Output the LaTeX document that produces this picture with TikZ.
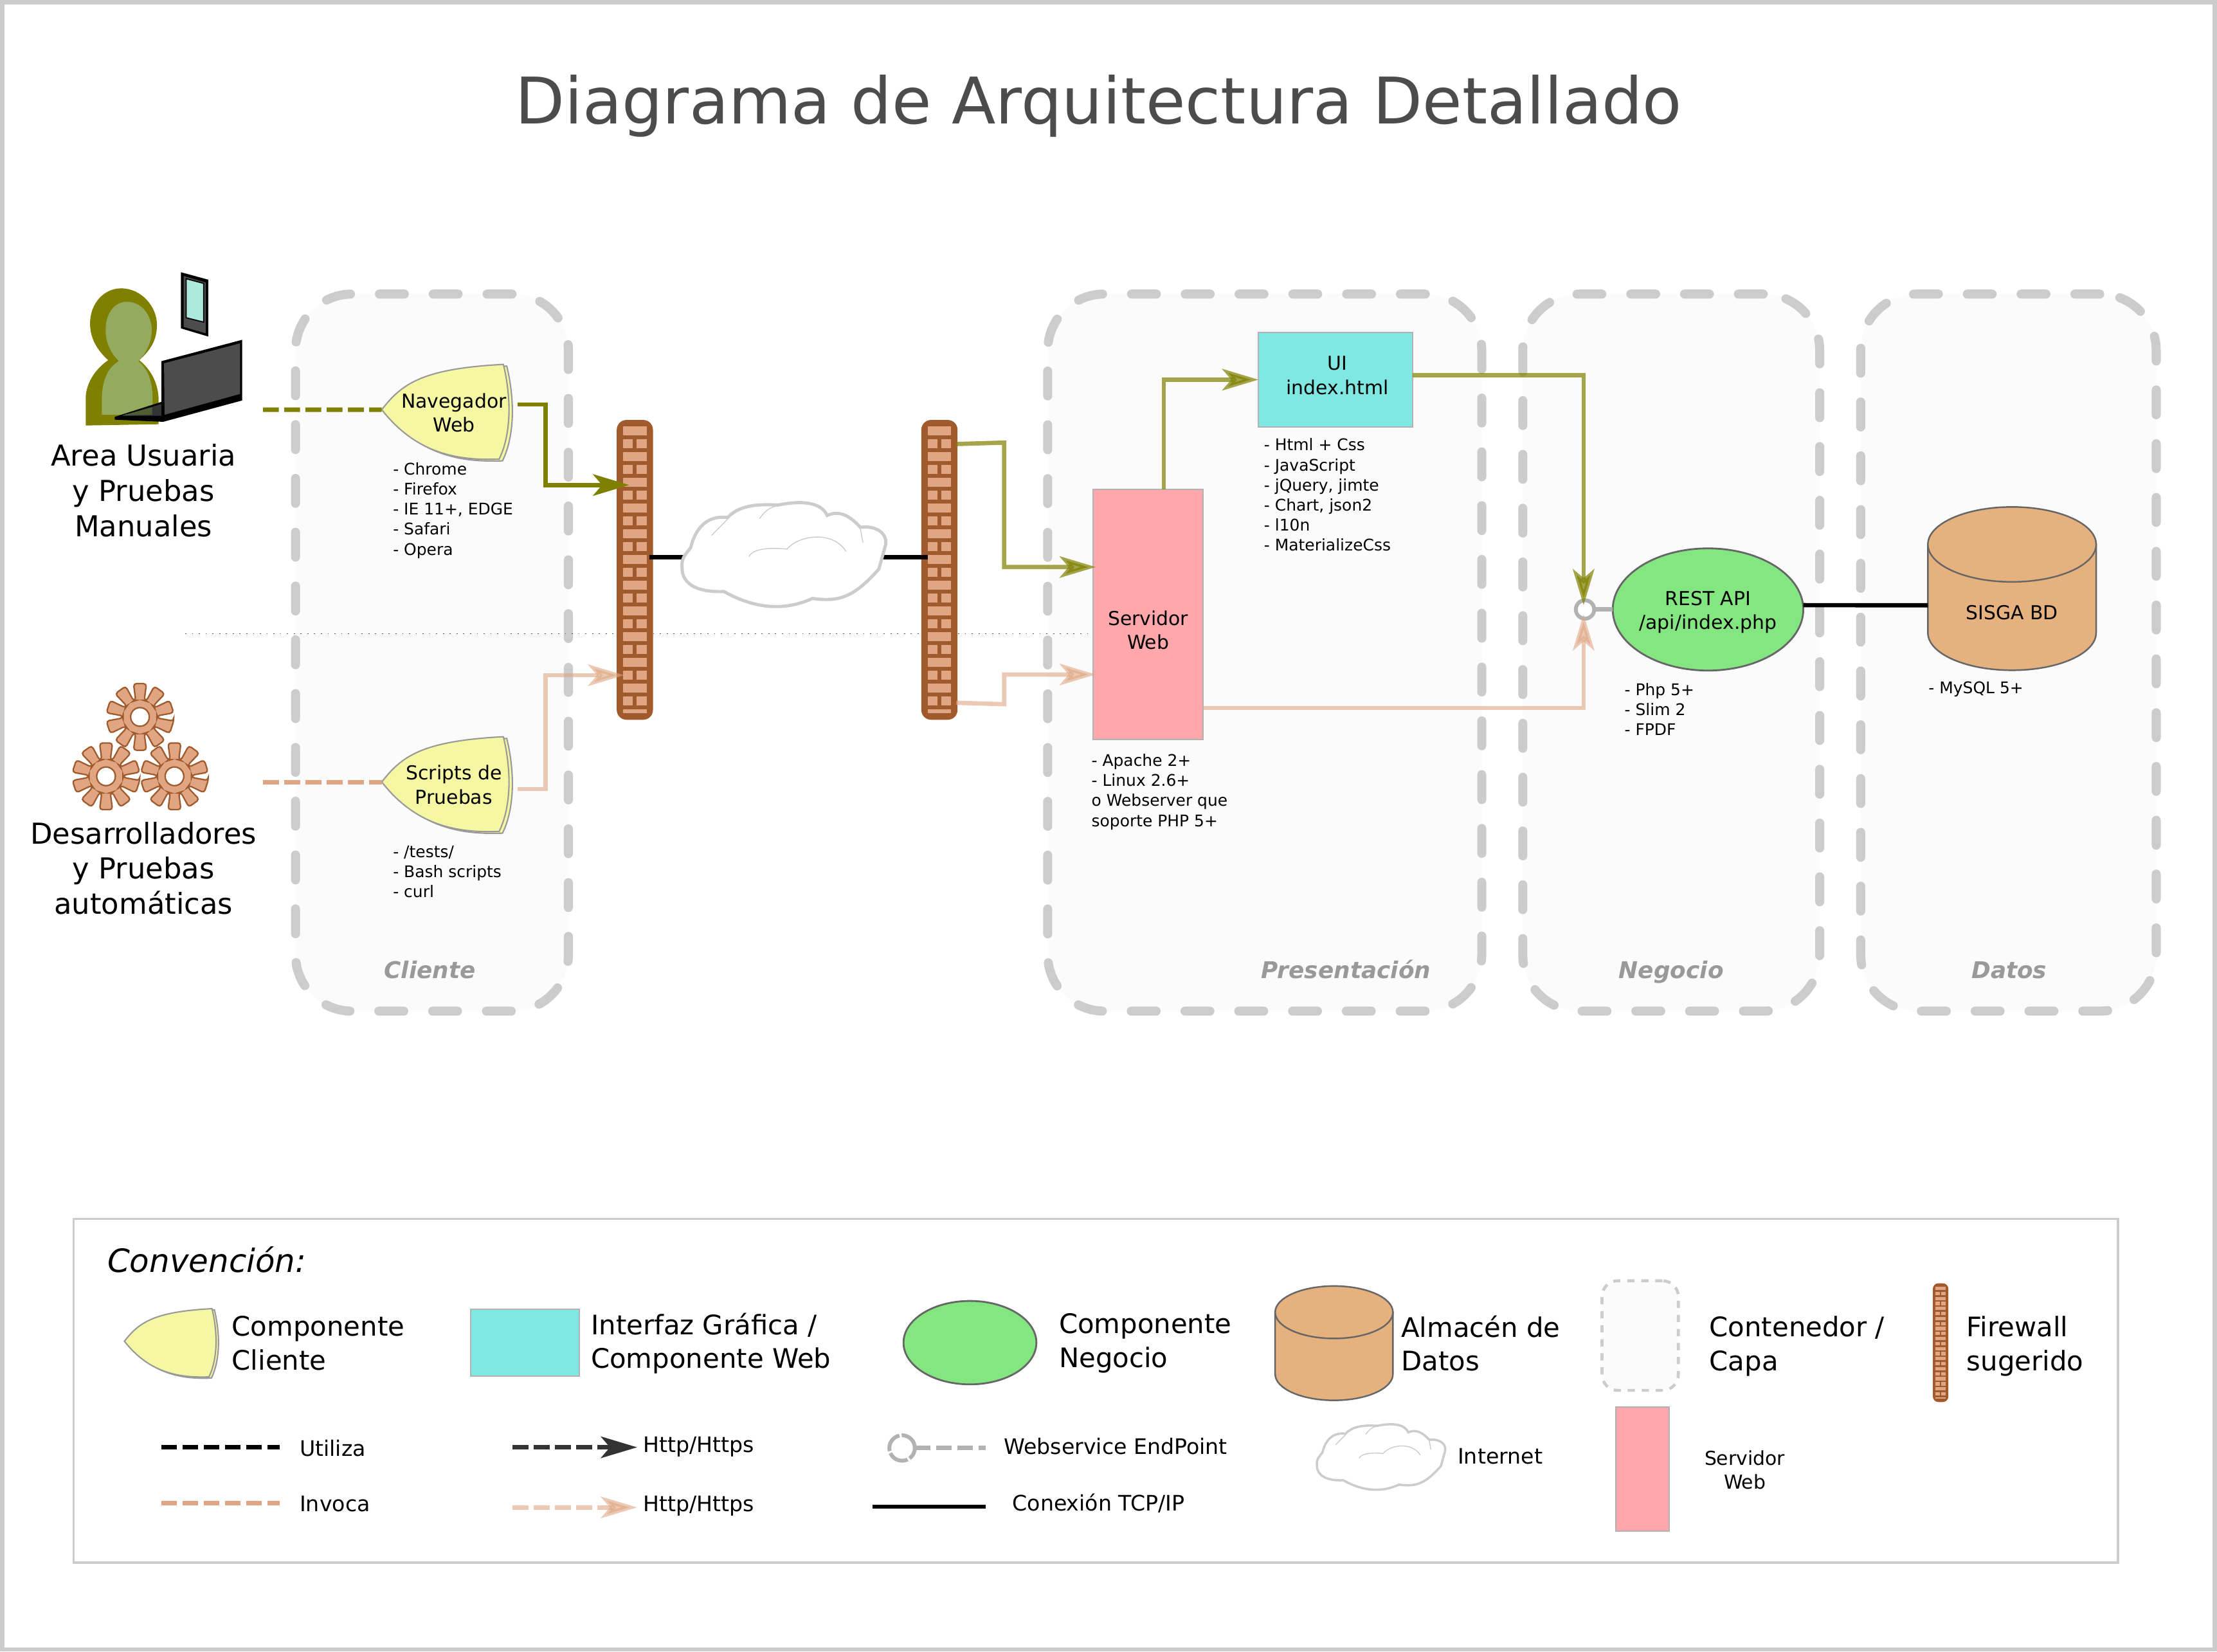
\documentclass[tikz,border=0pt]{standalone}
\usepackage{fontspec}
\setmainfont{DejaVu Sans}
\usetikzlibrary{arrows.meta,shapes.geometric}
\definecolor{oliva}{HTML}{808000}
\definecolor{durazno}{HTML}{E0A683}
\definecolor{ladrillo}{HTML}{A05A2C}
\definecolor{amarillo}{HTML}{F5F7A3}
\definecolor{cian}{HTML}{80E8E3}
\definecolor{rosado}{HTML}{FFA7AA}
\definecolor{verde}{HTML}{84E681}
\definecolor{arena}{HTML}{E4B17F}
\definecolor{oliva claro}{HTML}{94AA5F}
\definecolor{pantalla}{HTML}{AEE9DD}
\tikzset{
every node/.style={outer sep=0pt},
capa/.style={draw=black!20, fill=black!1.5, line width=4pt, line cap=round, dash pattern=on 11pt off 12.8pt, rounded corners=25pt, minimum width=#1*0.02199cm, minimum height=11.15cm},
titulocapa/.style={font=\fontsize{10.2}{12}\selectfont\bfseries\itshape, text=black!40, text height=1.5ex, text depth=.4ex},
texto/.style={font=\fontsize{8.5}{10.6}\selectfont, align=center},
lista/.style={font=\fontsize{7.1}{8.88}\selectfont, align=left, anchor=west, inner sep=0pt},
grande/.style={font=\fontsize{12.75}{15.6}\selectfont, align=center},
leyenda/.style={font=\fontsize{11.9}{15}\selectfont, align=left, anchor=west, inner sep=0pt},
rotulo/.style={font=\fontsize{9.45}{11}\selectfont, anchor=west, inner sep=0pt},
muro/.style={fill=ladrillo, rounded corners=#1, minimum width=25.6*0.02199cm, minimum height=212*0.02199cm},
muro/.default=4.3pt,
web/.style={draw=black!30, fill=rosado, line width=.6pt},
interfaz/.style={draw=black!30, fill=cian, line width=.6pt},
negocio/.style={ellipse, draw=black!60, fill=verde, line width=.8pt},
endpoint/.style={circle, draw=black!30, fill=white, line width=1.7pt, inner sep=0pt},
utiliza/.style={line width=2pt, dash pattern=on 7pt off 2.4pt},
invoca/.style={color=durazno, line width=2pt, dash pattern=on 7pt off 2.4pt},
punta/.style={-{Stealth[length=16pt,width=9.5pt,inset=4pt]}},
http/.style={punta, color=oliva, line width=1.9pt},
httpclaro/.style={punta, color=oliva, opacity=.7, line width=1.9pt},
httpdur/.style={punta, color=durazno, opacity=.6, line width=1.9pt},
tcp/.style={line width=1.9pt},
pics/ladrillos/.style={code={
\foreach \i in {0,2,...,20} \fill[durazno] (-8.4,-101.4+9.1*\i) rectangle ++(16.7,6.1);
\foreach \i in {1,3,...,21} {
\fill[durazno] (-8.4,-101.4+9.1*\i) rectangle ++(7,6.1);
\fill[durazno] (1.3,-101.4+9.1*\i) rectangle ++(7,6.1);
}
\fill[durazno] (-8.4,98.8) rectangle ++(16.7,2.4);
}},
pics/escudo/.style={code={
\foreach \d in {2.4,0}
\filldraw[shift={(\d,\d/2)}, fill=amarillo, draw=black!40, line width=.6pt] (0,0) .. controls (14,-18) and (28,-29) .. (86,-32) .. controls (89,-20) and (90,-8) .. (90,0) .. controls (90,12) and (88,25) .. (83,35) .. controls (55,36) and (25,32) .. (0,0) -- cycle;
}},
pics/cilindro/.style={code={
\filldraw[fill=arena, draw=black!60, line width=.7pt] (-59.5,0) -- (-59.5,62.5) arc (180:0:59.5 and 26.5) -- (59.5,0) -- cycle;
\filldraw[fill=arena, draw=black!60, line width=.7pt] (0,0) ellipse (59.5 and 26.5);
}},
pics/engrane/.style={code={
\filldraw[fill=durazno, draw=ladrillo, line width=.65pt, rounded corners=1.3pt] (7:24) \foreach \a in {0,36,...,324} { -- (\a+7:24) -- (\a+29:24) -- (\a+32.5:12) -- (\a+39.5:12) } -- cycle;
\filldraw[fill=white, draw=ladrillo, line width=.65pt] (0,0) circle (6.6);
}},
pics/nube/.style={code={
\filldraw[fill=white, draw=black!20, line width=#1] (-65.5,-6.7) .. controls (-61.2,-24.2) and (-50.7,-29.5) .. (-39.4,-28) .. controls (-31.6,-36.3) and (-19.4,-37.8) .. (-3.8,-36.8) .. controls (11.9,-40.1) and (26.7,-39.3) .. (31,-29.5) .. controls (39.7,-33.3) and (46.7,-29.5) .. (54.5,-21.1) .. controls (67.6,-22.7) and (74.5,-15.1) .. (72,-7.5) -- (67.6,8.4) .. controls (50.2,28.1) and (39.7,31.9) .. (20.6,29.2) .. controls (3.2,37.2) and (-17.7,38) .. (-42,24.3) .. controls (-59.4,25.1) and (-71.6,19.8) .. (-71.6,7.7) .. controls (-72.5,0.1) and (-68.1,-3) .. (-65.5,-6.7) -- cycle;
\draw[black!20, line width=.4pt] (-50.7,-15.4) -- (-39.4,-26.9);
\draw[black!20, line width=.4pt] (-16.8,-27.2) .. controls (-12.5,-33.3) and (-9,-35.5) .. (-4.1,-36.3);
\draw[black!20, line width=.4pt] (56.3,-10.2) .. controls (55.7,-15.1) .. (54.5,-20.4);
\draw[black!20, line width=.4pt] (-24.3,-0.4) .. controls (-21.2,-6.7) and (-7.2,-6.7) .. (2.7,-5.7) .. controls (10.2,-15.1) and (34.5,-19.6) .. (44.4,-4);
}}
}

\begin{document}
\begin{tikzpicture}[x=0.02199cm, y=-0.02199cm]
\useasboundingbox (0,0) rectangle (1568,1168);
\fill[white] (0,0) rectangle (1568,1168);
\draw[black!20, line width=1.9pt] (1.5,1.5) rectangle (1566.5,1166.5);
\node[font=\fontsize{28.45}{32}\selectfont, text=black!70] (titulo) at (777,75) {Diagrama de Arquitectura Detallado};

\node[capa=193] (cliente) at (305.5,461.5) {};
\node[capa=307] (presentacion) at (894.5,461.5) {};
\node[capa=210] (capanegocio) at (1182,461.5) {};
\node[capa=209] (datos) at (1420.5,461.5) {};
\node[titulocapa] (tcliente) at (304,687) {Cliente};
\node[titulocapa] (tpresentacion) at (952,687) {Presentación};
\node[titulocapa] (tnegocio) at (1182,687) {Negocio};
\node[titulocapa] (tdatos) at (1421,687) {Datos};
\coordinate (lineaA) at (131,448);
\coordinate (lineaB) at (775,448);
\draw[black!70, line width=.3pt, dash pattern=on .5pt off 2.5pt] (lineaA) -- (lineaB);

\fill[oliva] (60.6,300.9) -- (60.6,282) .. controls (60.6,275) and (63.7,263.8) .. (76.5,254.7) .. controls (69,247.9) and (63.7,239.5) .. (63.7,228.9) .. controls (63.7,213.7) and (74.3,203.9) .. (85.6,203.9) .. controls (100,203.9) and (111,216.8) .. (111,229.7) .. controls (111,241) and (106.1,247.9) .. (98.5,254.7) .. controls (106.9,261.5) and (112.2,271.3) .. (112.2,283.5) -- (112.2,300) -- cycle;
\fill[oliva claro] (72,293.3) -- (72,280.4) .. controls (72.8,266.8) and (77.3,259.2) .. (84.1,255.4) .. controls (77.3,248.6) and (74.7,241) .. (74.7,233.4) .. controls (74.7,221.3) and (81.1,213.4) .. (89.9,213.4) .. controls (100,213.4) and (107.3,222.8) .. (107.3,233.4) .. controls (107.3,242.5) and (103.1,250.1) .. (97.8,255.4) .. controls (104.6,260.7) and (107.9,269.8) .. (107.9,282) -- (107.9,293.3) -- cycle;
\fill[black] (171.3,280.4) -- (171.3,283.2) -- (115.4,298.3) -- (81.1,296.8) -- (81.1,294.8) -- (114.2,284.2) -- cycle;
\fill[black!80] (86.4,294.1) -- (114.2,285.7) -- (114.2,294.1) -- cycle;
\fill[black!45!oliva claro] (86.4,293.8) -- (107.6,288) -- (107.6,293.3) -- cycle;
\fill[black] (114.2,255.4) -- (171.3,240.3) -- (171.3,280.4) -- (114.2,295.6) -- cycle;
\fill[black!70] (116,256.9) -- (169.8,242.8) -- (169.8,278.6) -- (116.4,293.3) -- cycle;
\fill[black] (127.9,192.5) -- (147.3,197.8) -- (147.3,238) -- (127.9,232.2) -- cycle;
\fill[black!70] (129.9,195.2) -- (145.5,199.8) -- (145.5,235.7) -- (129.9,231.2) -- cycle;
\filldraw[fill=pantalla, draw=black, line width=.5pt] (131.6,197.1) -- (144,200.4) -- (144,227.8) -- (131.6,224.7) -- cycle;
\foreach \position in {(99,507),(75,549),(123.4,549)}
\path \position pic {engrane};
\node[grande] (usuaria) at (101.5,347) {Area Usuaria\\y Pruebas\\Manuales};
\node[grande] (desarrolladores) at (101.5,614) {Desarrolladores\\y Pruebas\\automáticas};

\path (270,289.7) pic {escudo};
\path (270,553) pic {escudo};
\node[texto, minimum width=90*0.02199cm] (navegador) at (321,292) {Navegador\\Web};
\node[texto, minimum width=90*0.02199cm] (scripts) at (321,555) {Scripts de\\Pruebas};
\coordinate (usoA) at (186,289.7);
\coordinate (usoB) at (186,553);
\draw[utiliza, color=oliva] (usoA) -- ([shift={(-6,-2.3)}]navegador.west);
\draw[invoca] (usoB) -- ([shift={(-6,-2)}]scripts.west);
\node[lista] (lnavegador) at (278,361) {- Chrome\\- Firefox\\- IE 11+, EDGE\\- Safari\\- Opera};
\node[lista] (lscripts) at (278,616.5) {- /tests/\\- Bash scripts\\- curl};

\node[muro] (muro1) at (449,403) {};
\node[muro] (muro2) at (664.4,403) {};
\path (muro1.center) pic {ladrillos};
\path (muro2.center) pic {ladrillos};
\node (internet) at (554,394) {};
\draw[tcp] ([shift={(-2.5,-9)}]muro1.east) -- (internet);
\draw[tcp] ([shift={(4.5,-9)}]muro2.west) -- (internet);
\path (internet.center) pic {nube=1.4pt};

\node[web, minimum width=78*0.02199cm, minimum height=177*0.02199cm] (servidor) at (812,434.5) {};
\node[texto] (tservidor) at (812,445.5) {Servidor\\Web};
\node[interfaz, minimum width=109*0.02199cm, minimum height=67*0.02199cm] (ui) at (944.5,268.5) {};
\node[texto] (tui) at (946,265.5) {UI\\index.html};
\node[negocio, minimum width=134.8*0.02199cm, minimum height=86.4*0.02199cm] (api) at (1208,431) {};
\node[texto] (tapi) at (1208,433) {REST API\\/api/index.php};
\node[endpoint, minimum size=13*0.02199cm] (wsapi) at (1121,431) {};
\path (1423,385) pic {cilindro};
\node[texto, minimum width=119*0.02199cm] (bd) at (1423,433) {SISGA BD};
\node[lista] (lservidor) at (772,560) {- Apache 2+\\- Linux 2.6+\\o Webserver que\\soporte PHP 5+};
\node[lista] (lui) at (894,350) {- Html + Css\\- JavaScript\\- jQuery, jimte\\- Chart, json2\\- l10n\\- MaterializeCss};
\node[lista] (lapi) at (1149,501.5) {- Php 5+\\- Slim 2\\- FPDF};
\node[lista] (lbd) at (1364,487.5) {- MySQL 5+};

\draw[http] ([yshift=3.7pt]navegador.east) -- ++(20,0) |- ([shift={(-4,-60)}]muro1.center);
\draw[httpdur] ([yshift=-1.9pt]scripts.east) -- ++(20,0) |- ([shift={(-7.5,74.5)}]muro1.center);
\draw[httpclaro] ([shift={(-1,-89)}]muro2.east) -- ++(34,-1) |- ([shift={(2,-33.5)}]servidor.west);
\draw[httpdur] ([shift={(-1,94)}]muro2.east) -- ++(34,1) |- ([shift={(2,42.5)}]servidor.west);
\draw[httpclaro] ([xshift=6.9pt]servidor.north) |- (ui.west);
\draw[httpclaro] ([yshift=2pt]ui.east) -| ([shift={(-1,-3)}]wsapi.center);
\draw[httpdur] ([yshift=14pt]servidor.south east) -| ([shift={(-1,3.4)}]wsapi.center);
\draw[black!30, line width=1.9pt] (wsapi) -- (api);
\draw[tcp] ([yshift=1.9pt]api.east) -- ([yshift=3.1pt]bd.west);

\node[draw=black!20, line width=1pt, minimum width=1446*0.02199cm, minimum height=243*0.02199cm] (convencion) at (775,983.5) {};
\node[font=\fontsize{14.2}{17}\selectfont\itshape, anchor=west, inner sep=0pt] (tconvencion) at (76,891) {Convención:};

\path (88,948.5) pic[scale=.72] {escudo};
\node[leyenda] (lcliente) at (164,950) {Componente\\Cliente};
\node[interfaz, minimum width=76.8*0.02199cm, minimum height=47*0.02199cm] (linterfaz) at (371.4,949.5) {};
\node[leyenda] (tinterfaz) at (418,950) {Interfaz Gráfica /\\Componente Web};
\node[negocio, minimum width=94*0.02199cm, minimum height=59*0.02199cm] (lnegocio) at (686,949.5) {};
\node[leyenda] (tlnegocio) at (749,950) {Componente\\Negocio};
\path (943.5,928) pic[scale=.7] {cilindro};
\node[leyenda] (lalmacen) at (991,950) {Almacén de\\Datos};
\node[draw=black!20, fill=black!1.5, line width=1.3pt, dash pattern=on 3.2pt off 3pt, rounded corners=7pt, minimum width=54*0.02199cm, minimum height=77.5*0.02199cm] (lcapa) at (1160,944.5) {};
\node[leyenda] (lcontenedor) at (1209,952) {Contenedor /\\Capa};
\node[muro=2.5pt, minimum width=11*0.02199cm, minimum height=84*0.02199cm] (lmuro) at (1372.5,949.5) {};
\path (lmuro.center) pic[xscale=.43, yscale=.39] {ladrillos};
\node[leyenda] (lfirewall) at (1391,952) {Firewall\\sugerido};

\foreach \nombre/\y/\estilo/\etiqueta in {utiliza/1023.5/utiliza/Utiliza,invoca/1063/invoca/Invoca}{
\coordinate (\nombre A) at (114,\y);
\coordinate (\nombre B) at (198,\y);
\draw[\estilo] (\nombre A) -- (\nombre B);
\node[rotulo] (t\nombre) at (212,\y+0.5) {\etiqueta};
}
\coordinate (httpA) at (362.5,1023.5);
\coordinate (httpB) at (450.6,1023.5);
\draw[punta, color=black!80, line width=2pt, dash pattern=on 7pt off 2.4pt] (httpA) -- (httpB);
\node[rotulo] (thttp) at (455,1023) {Http/Https};
\coordinate (httpclaroA) at (362.5,1066);
\coordinate (httpclaroB) at (450.6,1066);
\draw[punta, color=durazno, opacity=.6, line width=2pt, dash pattern=on 7pt off 2.4pt] (httpclaroA) -- (httpclaroB);
\node[rotulo] (thttpclaro) at (455,1065) {Http/Https};
\node[endpoint, minimum size=18*0.02199cm, dash pattern=on 9pt off 1pt] (lendpoint) at (638,1024) {};
\coordinate (lendpointB) at (697,1024);
\draw[black!30, line width=2pt, dash pattern=on 7pt off 2.4pt] (lendpoint) -- (lendpointB);
\node[rotulo] (tendpoint) at (710,1023) {Webservice EndPoint};
\coordinate (ltcpA) at (617,1065.5);
\coordinate (ltcpB) at (697,1065.5);
\draw[tcp] (ltcpA) -- (ltcpB);
\node[rotulo] (ttcp) at (716,1063) {Conexión TCP/IP};
\path (976.5,1031.5) pic[scale=.63] {nube=1pt};
\node[rotulo] (tinternet) at (1031,1030) {Internet};
\node[web, minimum width=37.5*0.02199cm, minimum height=87.6*0.02199cm] (lservidorweb) at (1161.7,1038.8) {};
\node[texto] (tservidorweb) at (1234,1039.5) {Servidor\\Web};
\end{tikzpicture}
\end{document}
